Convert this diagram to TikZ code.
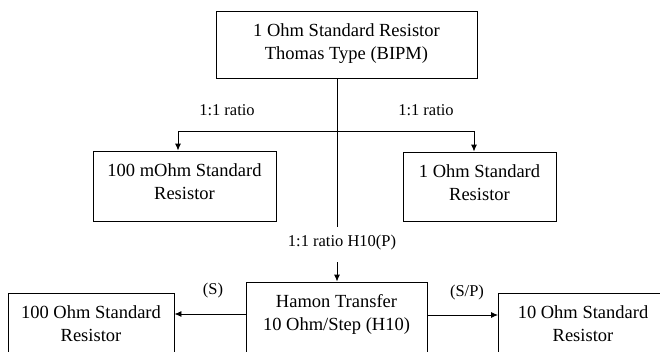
\documentclass[tikz,border=0pt]{standalone}
\usepackage{fontspec}
\setmainfont{Liberation Serif}
\usetikzlibrary{arrows.meta}

\tikzset{
  resbox/.style={draw, line width=0.9pt, align=center, inner sep=0pt,
    font=\fontsize{18.5}{23}\selectfont},
  ratio/.style={font=\fontsize{16.5}{20}\selectfont, inner sep=0pt},
  arr/.style={-{Latex[length=7pt,width=6pt]}},
}

\begin{document}
\begin{tikzpicture}[x=1pt,y=-1pt,line width=0.9pt]
\useasboundingbox (0,0) rectangle (660,351);
\clip (0,0) rectangle (660,351);

% boxes
\node[resbox, minimum width=261pt, minimum height=67pt] (bipm) at (346.5,44.5) {1 Ohm Standard Resistor\\Thomas Type (BIPM)\\[-18pt]};
\node[resbox, minimum width=183pt, minimum height=70pt] (mohm) at (184.5,186) {100 mOhm Standard\\Resistor\\[-15pt]};
\node[resbox, minimum width=153pt, minimum height=69pt] (oneohm) at (479.5,186.5) {1 Ohm Standard\\Resistor\\[-15pt]};
\node[resbox, minimum width=181pt, minimum height=70pt] (hamon) at (336.5,317) {Hamon Transfer\\10 Ohm/Step (H10)\\[-13pt]};
\node[resbox, minimum width=166pt, minimum height=70pt] (hundred) at (91,328) {100 Ohm Standard\\Resistor\\[-15pt]};
\node[resbox, minimum width=169pt, minimum height=70pt] (ten) at (583,328) {10 Ohm Standard\\Resistor\\[-15pt]};

% branch to the 1:1 transfers
\coordinate (brL) at (178,131);
\coordinate (brR) at (474,131);
\coordinate (trunk) at (337,227);
\draw (trunk |- bipm.south) -- (trunk);
\draw (brL) -- (brR);
\draw[arr] (brL) -- (brL |- mohm.north);
\draw[arr] (brR) -- (brR |- oneohm.north);
\node[ratio] (lblL) at (227,110) {1:1 ratio};
\node[ratio] (lblR) at (426,110) {1:1 ratio};

% down to the Hamon transfer
\node[ratio] (lblH) at (342,243) {1:1 ratio H10(P)};
\coordinate (hin) at (337,262);
\draw[arr] (hin) -- (hin |- hamon.north);

% Hamon outputs
\draw[arr] ([yshift=3pt]hamon.west) -- ([yshift=3pt]hamon.west -| hundred.east);
\draw[arr] ([yshift=2pt]hamon.east) -- ([yshift=2pt]hamon.east -| ten.west);
\node[ratio] (lblS) at (213,291) {(S)};
\node[ratio] (lblSP) at (467,293) {(S/P)};
\end{tikzpicture}
\end{document}
